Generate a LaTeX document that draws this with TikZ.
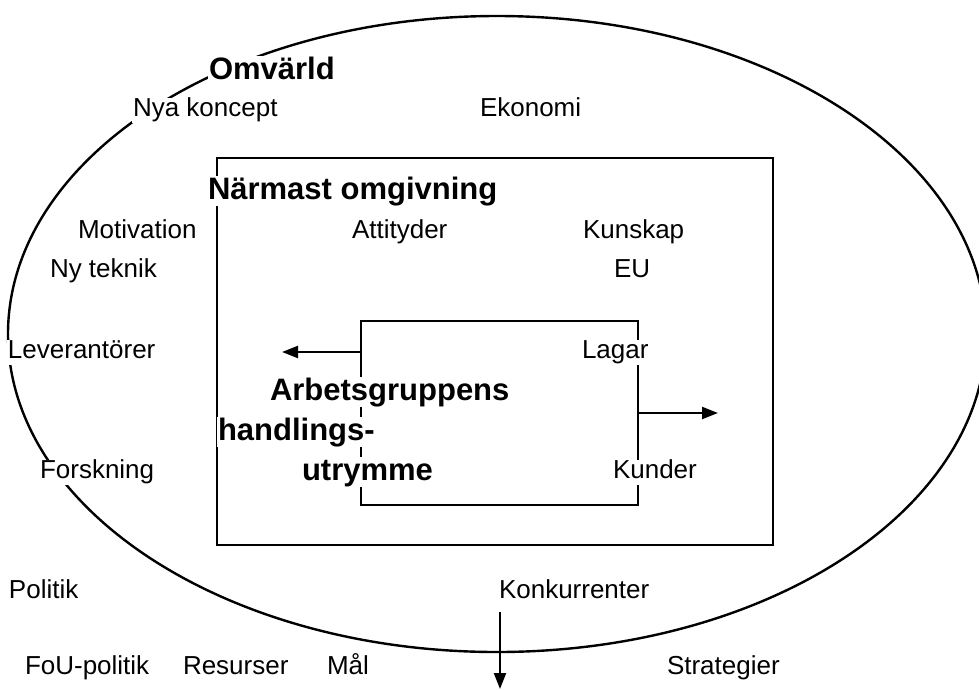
\documentclass[tikz,border=0pt]{standalone}
\usepackage{fontspec}
\setmainfont{Liberation Sans}
\usetikzlibrary{arrows.meta}
\begin{document}
\begin{tikzpicture}[x=1pt,y=-1pt,
  lbl/.style={anchor=west,fill=white,inner sep=1pt,outer sep=0pt,font=\fontsize{26}{30}\selectfont,text height=18pt,text depth=5pt},
  hd/.style={anchor=west,fill=white,inner sep=1pt,outer sep=0pt,font=\fontsize{31}{36}\selectfont\bfseries,text height=22pt,text depth=6pt},
  arr/.style={line width=2.3pt,-{Triangle[length=16pt,width=12pt]}}]
\useasboundingbox (0,0) rectangle (979,689);
\clip (0,0) rectangle (979,689);
% outer ellipse
\draw[line width=2.4pt] (497,334) ellipse [x radius=489, y radius=318];
% rectangles
\node[draw,line width=2.3pt,minimum width=556pt,minimum height=387pt,inner sep=0pt] (omg) at (495,351.5) {};
\node[draw,line width=2.3pt,minimum width=277pt,minimum height=184pt,inner sep=0pt] (grp) at (499.5,413) {};
% arrows
\coordinate (lt) at (282,352);
\coordinate (rt) at (718,413);
\coordinate (d1) at (500,612);
\coordinate (d2) at (500,689);
\draw[arr] (grp.west |- lt) -- (lt);
\draw[arr] (grp.east) -- (rt);
\draw[arr] (d1) -- (d2);
% headings
\node[hd] (omv) at (208,71) {Omvärld};
\node[hd] (nar) at (207,191) {Närmast omgivning};
\node[hd] (arb) at (269,392) {Arbetsgruppens};
\node[hd] (han) at (217,432) {handlings-};
\node[hd] (utr) at (301,472) {utrymme};
% labels
\node[lbl] (nya) at (132,110) {Nya koncept};
\node[lbl] (eko) at (479,110) {Ekonomi};
\node[lbl] (mot) at (77,232) {Motivation};
\node[lbl] (att) at (351,232) {Attityder};
\node[lbl] (kun) at (582,232) {Kunskap};
\node[lbl] (nyt) at (49,271) {Ny teknik};
\node[lbl] (eu) at (613,271) {EU};
\node[lbl] (lev) at (7,352) {Leverantörer};
\node[lbl] (lag) at (581,352) {Lagar};
\node[lbl] (for) at (39,472) {Forskning};
\node[lbl] (kd) at (612,472) {Kunder};
\node[lbl] (pol) at (8,592) {Politik};
\node[lbl] (kon) at (498,592) {Konkurrenter};
\node[lbl] (fou) at (24,668) {FoU-politik};
\node[lbl] (res) at (182,668) {Resurser};
\node[lbl] (mal) at (326,668) {Mål};
\node[lbl] (str) at (666,668) {Strategier};
\end{tikzpicture}
\end{document}
